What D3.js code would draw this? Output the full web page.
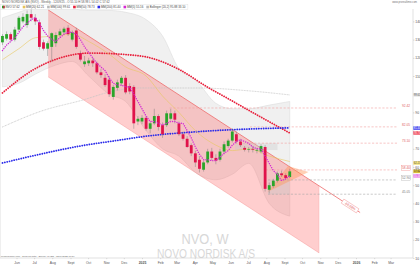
<!DOCTYPE html>
<html>
<head>
<meta charset="utf-8">
<script src="https://cdn.jsdelivr.net/npm/d3@7"></script>
<style>
html, body { margin: 0; padding: 0; background: #fff; }
svg { display: block; font-family: "Liberation Sans", Arial, sans-serif; }
</style>
</head>
<body>
<svg id="chart" width="420" height="265"></svg>
<script>
// weekly candles, NVO
const firstWeek = "2024-05-06";
const lastWeek = "2025-09-08";
const opens = [128.5,130.5,133,130,135.5,140,138,144,142,139.5, 128.5,125,126,128,132.5,134,136.5,130,135,122.5,
  116.5,117,118.5,117,112,109,108,98.5,103.5,106, 109,104.5,104,85,85,87,81,84,88,83,
  83,86.5,89.5,84,78,75.5,72,67.5,64,58.5, 62.5,68.5,65,64,68.5,71.5,74.5,78,74,70.5,
  69.5,70,69,68.5,71,47.5,49.5,52.5,56.5,55.5, 54.5];
const highs = [133,134.5,134,137,143,144.5,146,148,144,141, 130,129,134,134,136,137,138,135,136.5,124,
  121,120,120,118,114,111,110,105,108,110, 110.5,106,105,88,88.5,88,85,92,89,84.5,
  91,92,91,85,79.5,77,73,69,66,63.5, 70,70.5,67,70,74,75.5,81,79.5,75.5,71.5,
  71,71.5,70.5,72.5,72,51.5,53.5,57.5,58,56.5, 59];
const lows = [127,129.5,129,129,134.5,139,136.5,140,138,124.5, 124,121,118,126,131,132.5,132,129,125,118,
  115,115.5,115,111,109,104,98.5,97,102,104.5, 100,100,81,83,83.5,80,78.5,83,80,76,
  82,85.5,84,77,74.5,70.5,66,60,57,57.5, 61.5,63.5,61.5,63,67,70.5,73.5,73,71,68.5,
  68,68,67.5,67.5,46.5,45.5,48.5,51.5,54.5,53, 54];
const closes = [132,133,130,135.5,142,142.5,144,142,140,126, 125,128,133.5,132.5,134.5,136,133,134,126,119,
  118,118.5,117,112,110.5,105,100,104,106.5,109, 101,101.5,84,86.5,87,81,84,88,82,78,
  89.5,89.5,86,78,75.5,71,67.5,62.5,59,62.5, 68.5,65,63.5,68.5,72.5,74.5,79.5,74,72,69.5,
  69.8,69.5,69.4,71.5,48,50,52.5,56.5,55.5,54, 57.6];
// short moving average (magenta), one value per week
const sma5 = [124,127,129,131,134,137,139,141,142,139, 135,132,130,129,131,133,134,134,133,130,
  126,123,120,117,115,113,109,106,105,105, 104,104,100,96,92,88,85,85,84,83,
  84,85,85,84,84,80,76,71,67,64, 64,63.5,63.5,65.5,67.5,69,72,74,75,74,
  73,71,70,70,66,62,58,56,52.5,53.5, 55];

// bollinger cloud and 20-week average, read monthly
const bandDates = ["2024-05-08","2024-06-05","2024-07-03","2024-08-07","2024-09-04","2024-10-02","2024-11-06",
  "2024-12-04","2025-01-08","2025-02-05","2025-03-05","2025-04-02","2025-05-07","2025-06-04","2025-07-02",
  "2025-08-06","2025-09-10"];
const bandUpper = [142,145,148,149,147,146,146,145,141,132,114,108,95,92,92,94,96];
const bandLower = [104,106,111,116,118,110,100,96,80,70,66,57,53,56,62,40,33];
const sma20 = [119,125,131,132,133,129,122,115,110,99,90,80,72,69,70,66,63];

// long averages
const sma50Dates = ["2024-05-08","2024-06-29","2024-08-14","2024-10-04","2024-12-29","2025-03-07","2025-04-22","2025-05-26","2025-07-04","2025-08-07","2025-09-10"];
const sma50 = [100.7,113.3,119.9,122.6,121,113.3,104,97.9,90.8,84.7,78.7];
const sma100Dates = ["2024-05-08","2024-07-14","2024-09-22","2024-11-07","2024-12-29","2025-04-10","2025-07-04","2025-09-10"];
const sma100 = [82,90.8,96.8,101.2,103.4,103.4,101.8,99.6];
const sma200Dates = ["2024-05-08","2024-07-11","2024-09-17","2024-11-24","2024-12-29","2025-04-10","2025-07-04","2025-09-10"];
const sma200 = [62.2,67,71.5,74.8,76.5,79.5,80.9,81.5];

// regression channel
const channelDates = ["2024-07-25","2025-10-30"];
const channelUpper = [146.3,49.6];
const channelLower = [109.5,12.8];
const channelLineEnd = {date: "2026-01-08", price: 35.0};
const channelLabel = "-66.08%";

// horizontal levels
const levelPrices = [92.42,82.05,73.10,58.40,52.90,45.05];
const levelStarts = ["2025-02-17","2025-07-04","2025-06-09","2025-07-31","2025-08-04","2025-08-04"];
const levelEnd = "2026-03-12";

// zones
const zoneBox = {from: "2025-06-09", to: "2025-08-20", hi: 73.1, lo: 69.3};
const zoneBox2 = {from: "2025-08-04", to: "2025-09-10", hi: 52.9, lo: 45.05};
const fanDates = ["2025-08-03","2025-09-07","2025-10-12"];
const fanPrices = [46.3,60.5,57.3];

// right axis price tags
const tagPrices = [99.61,81.40,78.73,62.21,57.62,55.16];

// axes
const yTicks = [10,20,30,40,50,60,70,80,90,100,110,120,130,140];
const monthTicks = ["2024-06-01","2024-07-01","2024-08-01","2024-09-01","2024-10-01","2024-11-01","2024-12-01",
  "2025-01-01","2025-02-01","2025-03-01","2025-04-01","2025-05-01","2025-06-01","2025-07-01","2025-08-01",
  "2025-09-01","2025-10-01","2025-11-01","2025-12-01","2026-01-01","2026-02-01","2026-03-01"];
const monthLabels = ["Jun","Jul","Aug","Sept","Oct","Nov","Dec","2025","Feb","Mar","Apr","May","Jun","Jul",
  "Aug","Sept","Oct","Nov","Dec","2026","Feb","Mar"];

const headerText = "NOVO NORDISK A/S (NVO) - Weekly - 12/09/25 - O 55.10 H 58.98 L 54.02 C 57.62";
const legendLabels = ["NVO 57.62","MM(20) 62.21","MM(100) 99.61","MM(50) 78.73","MM(200) 81.40","MM(5) 55.16","Bollinger (20,2) 95.88 33.10"];
const legendColors = ["#2aa52a","#e6c35a","#b8b8b8","#e8203c","#2b2bea","#d42ad4","#bbbbbb"];

const svg = d3.select("#chart");
const plotRight = 413, plotBottom = 258;
const pd = d3.utcParse("%Y-%m-%d");

const x = d3.scaleUtc()
  .domain([pd("2025-01-01"), pd("2026-01-01")])
  .range([142, 356]);
const y = d3.scaleLinear()
  .domain([10, 140])
  .range([plotBottom, 21.4]);

const weeks = d3.utcMonday.range(pd(firstWeek), d3.utcDay.offset(pd(lastWeek), 1));
const candles = weeks.map((d, i) => ({
  date: d3.utcDay.offset(d, 2),
  o: opens[i], h: highs[i], l: lows[i], c: closes[i], m: sma5[i]
}));

const plot = svg.append("g");

// watermark
svg.append("text")
  .attr("x", 205).attr("y", 243.5)
  .attr("text-anchor", "middle")
  .attr("font-size", 15).attr("fill", "#d8d8d8")
  .attr("textLength", 47).attr("lengthAdjust", "spacingAndGlyphs")
  .text("NVO, W");
svg.append("text")
  .attr("x", 206).attr("y", 257.6)
  .attr("text-anchor", "middle")
  .attr("font-size", 12).attr("fill", "#d8d8d8")
  .attr("textLength", 98).attr("lengthAdjust", "spacingAndGlyphs")
  .text("NOVO NORDISK A/S");

// bollinger cloud
const band = bandDates.map((d, i) => ({date: pd(d), u: bandUpper[i], l: bandLower[i], m: sma20[i]}));
plot.append("path")
  .datum(band)
  .attr("fill", "#f0f0f0")
  .attr("stroke", "#dcdcdc")
  .attr("stroke-width", 0.6)
  .attr("d", d3.area().x(d => x(d.date)).y0(d => y(d.l)).y1(d => y(d.u)).curve(d3.curveMonotoneX));

// channel
const ch = channelDates.map((d, i) => ({date: pd(d), u: channelUpper[i], l: channelLower[i]}));
plot.append("path")
  .datum(ch)
  .attr("fill", "rgba(255,80,80,0.28)")
  .attr("stroke", "none")
  .attr("d", d3.area().x(d => x(d.date)).y0(d => y(d.l)).y1(d => y(d.u)));
plot.append("line")
  .attr("x1", x(ch[0].date)).attr("y1", y(ch[0].l))
  .attr("x2", x(ch[1].date)).attr("y2", y(ch[1].l))
  .attr("stroke", "rgba(240,110,110,0.55)").attr("stroke-width", 0.5);
plot.append("line")
  .attr("x1", x(ch[1].date)).attr("y1", y(ch[1].l))
  .attr("x2", x(ch[1].date)).attr("y2", y(ch[1].u))
  .attr("stroke", "rgba(240,110,110,0.35)").attr("stroke-width", 0.5);
const endX = x(pd(channelLineEnd.date)), endY = y(channelLineEnd.price);
plot.append("line")
  .attr("x1", x(ch[0].date)).attr("y1", y(ch[0].u))
  .attr("x2", endX).attr("y2", endY)
  .attr("stroke", "#ee6a6a").attr("stroke-width", 0.8);
const ang = Math.atan2(endY - y(ch[0].u), endX - x(ch[0].date)) * 180 / Math.PI;
const lab = plot.append("g")
  .attr("transform", `translate(${endX - 10},${endY - 6.5}) rotate(${ang})`);
lab.append("rect").attr("x", -9).attr("y", -2.4).attr("width", 18).attr("height", 4.8)
  .attr("fill", "#fff").attr("stroke", "#f08080").attr("stroke-width", 0.4);
lab.append("text").attr("text-anchor", "middle").attr("y", 1.2)
  .attr("font-size", 3.4).attr("fill", "#e05050").text(channelLabel);

// zones
[zoneBox, zoneBox2].forEach(z => {
  plot.append("rect")
    .attr("x", x(pd(z.from))).attr("y", y(z.hi))
    .attr("width", x(pd(z.to)) - x(pd(z.from)))
    .attr("height", y(z.lo) - y(z.hi))
    .attr("fill", "rgba(200,200,200,0.35)");
});
plot.append("path")
  .datum(fanDates.map((d, i) => [x(pd(d)), y(fanPrices[i])]))
  .attr("fill", "rgba(255,150,90,0.45)")
  .attr("d", d => d3.line()(d) + "Z");

// horizontal levels
levelPrices.forEach((p, i) => {
  const col = i >= 4 ? "#a8a8a8" : "#f3a0a0";
  plot.append("line")
    .attr("x1", x(pd(levelStarts[i]))).attr("x2", x(pd(levelEnd)))
    .attr("y1", y(p)).attr("y2", y(p))
    .attr("stroke", col).attr("stroke-width", 0.6)
    .attr("stroke-dasharray", "2.2,1.6");
  const g = plot.append("g");
  const t = g.append("text")
    .attr("x", 410).attr("y", y(p) - 0.9)
    .attr("text-anchor", "end")
    .attr("font-size", 3.2)
    .attr("fill", i >= 4 ? "#777" : "#e06060")
    .text(p.toFixed(2));
  if (i === 3 || i === 4) {
    const bb = t.node().getBBox();
    g.insert("rect", "text")
      .attr("x", bb.x - 0.6).attr("y", bb.y - 0.2)
      .attr("width", bb.width + 1.2).attr("height", bb.height + 0.4)
      .attr("fill", "#fff")
      .attr("stroke", i === 3 ? "#f08080" : "#aaa").attr("stroke-width", 0.35);
  }
});

// long averages (dotted)
function dotted(dates, vals, color, w, gap) {
  plot.append("path")
    .datum(dates.map((d, i) => ({date: pd(d), v: vals[i]})))
    .attr("fill", "none")
    .attr("stroke", color)
    .attr("stroke-width", w)
    .attr("stroke-linecap", "round")
    .attr("stroke-dasharray", `0.1,${gap}`)
    .attr("d", d3.line().x(d => x(d.date)).y(d => y(d.v)).curve(d3.curveMonotoneX));
}
dotted(sma100Dates, sma100, "#c4c4c4", 0.9, 1.5);
dotted(sma50Dates, sma50, "#e8203c", 1.8, 2.3);
dotted(sma200Dates, sma200, "#2b2bea", 1.8, 2.3);

// 20-week average
plot.append("path")
  .datum(band)
  .attr("fill", "none")
  .attr("stroke", "#e8c760")
  .attr("stroke-width", 0.6)
  .attr("d", d3.line().x(d => x(d.date)).y(d => y(d.m)).curve(d3.curveMonotoneX));

// candles
const cg = plot.append("g");
cg.selectAll("line.wick")
  .data(candles)
  .join("line")
  .attr("class", "wick")
  .attr("x1", d => x(d.date)).attr("x2", d => x(d.date))
  .attr("y1", d => y(d.h)).attr("y2", d => y(d.l))
  .attr("stroke", "#777").attr("stroke-width", 0.45);
cg.selectAll("rect")
  .data(candles)
  .join("rect")
  .attr("x", d => x(d.date) - 1.4)
  .attr("width", 2.8)
  .attr("y", d => y(Math.max(d.o, d.c)))
  .attr("height", d => Math.max(0.6, Math.abs(y(d.o) - y(d.c))))
  .attr("fill", d => d.c >= d.o ? "#2aa52a" : "#e0134b");

// short average (magenta dots)
plot.append("path")
  .datum(candles)
  .attr("fill", "none")
  .attr("stroke", "#d42ad4")
  .attr("stroke-width", 1.4)
  .attr("stroke-linecap", "round")
  .attr("stroke-dasharray", "0.1,2.2")
  .attr("d", d3.line().x(d => x(d.date)).y(d => y(d.m)));

// axes
svg.append("line")
  .attr("x1", plotRight).attr("x2", plotRight).attr("y1", 9).attr("y2", plotBottom)
  .attr("stroke", "#cfcfcf").attr("stroke-width", 0.6);
svg.append("line")
  .attr("x1", 0).attr("x2", plotRight).attr("y1", plotBottom).attr("y2", plotBottom)
  .attr("stroke", "#cfcfcf").attr("stroke-width", 0.6);
svg.append("line")
  .attr("x1", 0.5).attr("x2", 0.5).attr("y1", 9).attr("y2", plotBottom)
  .attr("stroke", "#e4e4e4").attr("stroke-width", 0.6);

const yAxis = svg.append("g")
  .attr("transform", `translate(${plotRight},0)`)
  .call(d3.axisRight(y).tickValues(yTicks).tickSize(1.5).tickPadding(0.8));
yAxis.select(".domain").remove();
yAxis.selectAll("line").attr("stroke", "#bbb").attr("stroke-width", 0.5);
yAxis.selectAll("text").attr("font-size", 3.4).attr("fill", "#555").attr("font-family", null)
  // price tags cover the tick labels they sit on
  .style("display", d => tagPrices.some(p => Math.abs(y(p) - y(d)) < 3.2) ? "none" : null);

const xAxis = svg.append("g")
  .attr("transform", `translate(0,${plotBottom})`)
  .call(d3.axisBottom(x).tickValues(monthTicks.map(pd)).tickFormat((d, i) => monthLabels[i]).tickSize(1.2).tickPadding(1.9));
xAxis.select(".domain").remove();
xAxis.selectAll("line").attr("stroke", "#bbb").attr("stroke-width", 0.5);
xAxis.selectAll("text")
  .attr("font-size", 3.4).attr("fill", "#555").attr("font-family", null)
  .attr("font-weight", (d, i) => /^20/.test(monthLabels[i]) ? "bold" : null);

// right axis price tags
const tagFills = ["#e6e6e6","#4a4af0","#f04a5a","#f3e27a","#d9bd3a","#e87ae8"];
const tagText = ["#555","#fff","#fff","#555","#333","#fff"];
tagPrices.forEach((p, i) => {
  svg.append("rect")
    .attr("x", plotRight + 0.3).attr("y", y(p) - 1.8)
    .attr("width", 6.7).attr("height", 3.6)
    .attr("fill", tagFills[i]);
  svg.append("text")
    .attr("x", plotRight + 0.7).attr("y", y(p) + 1)
    .attr("font-size", 2.7).attr("fill", tagText[i])
    .text(p.toFixed(2));
});

// header and legend
svg.append("text")
  .attr("x", 2).attr("y", 3.2)
  .attr("font-size", 2.9).attr("fill", "#555")
  .text(headerText);
svg.append("text")
  .attr("x", 417).attr("y", 3.2)
  .attr("text-anchor", "end")
  .attr("font-size", 2.6).attr("fill", "#777")
  .text("www.prorealtime.com");

const legend = svg.append("g");
const legendBg = legend.append("rect")
  .attr("x", 0.5).attr("y", 4.6).attr("height", 4.6)
  .attr("fill", "#fff").attr("stroke", "#ddd").attr("stroke-width", 0.4);
let lx = 2;
legendLabels.forEach((t, i) => {
  legend.append("rect")
    .attr("x", lx).attr("y", 5.7).attr("width", 2.6).attr("height", 2.6)
    .attr("fill", legendColors[i]);
  if (i === 0) {
    legend.append("rect").attr("x", lx + 1.3).attr("y", 5.7).attr("width", 1.3).attr("height", 2.6)
      .attr("fill", "#e0134b");
  }
  const tx = legend.append("text")
    .attr("x", lx + 3.4).attr("y", 8.1)
    .attr("font-size", 2.9).attr("fill", "#444")
    .text(t);
  lx += 3.4 + tx.node().getComputedTextLength() + 3;
});
legendBg.attr("width", lx - 1);

// footer
svg.append("text")
  .attr("x", 1).attr("y", 257.2)
  .attr("font-size", 2.4).attr("fill", "#666")
  .text("ProRealTime.com - Delayed data - Source: NYSE - 12/09/2025 17:59");
</script>
</body>
</html>
